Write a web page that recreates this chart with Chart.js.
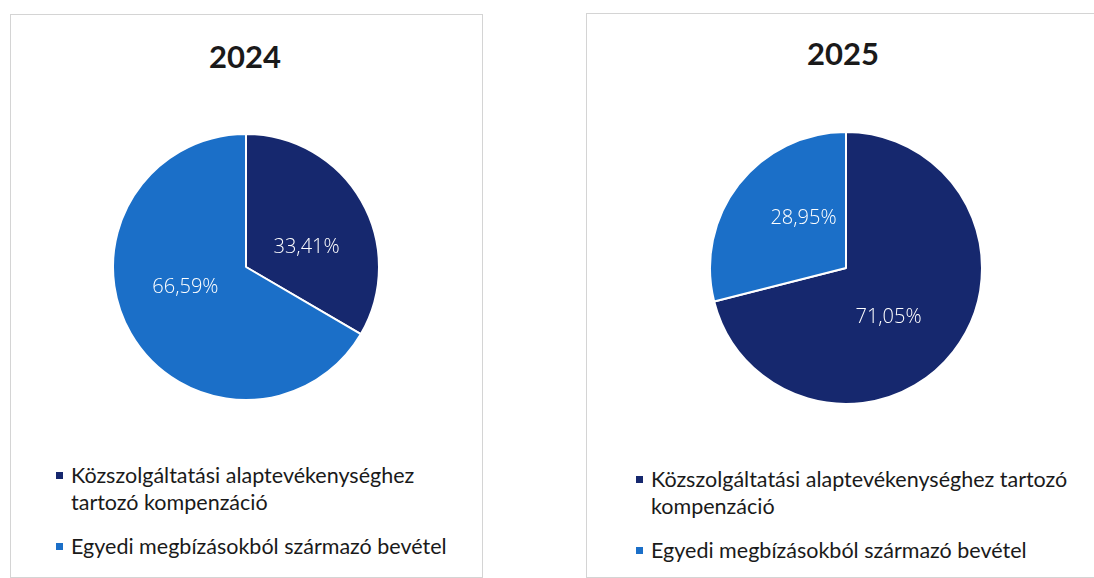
<!DOCTYPE html>
<html lang="hu">
<head>
<meta charset="utf-8">
<script src="https://cdn.jsdelivr.net/npm/chart.js@4/dist/chart.umd.min.js"></script>
<style>
  body { margin:0; background:#fff; width:1094px; height:578px; overflow:hidden; position:relative; font-family:Lato, "Open Sans", sans-serif; }
  .box { position:absolute; border:1px solid #d4d4d4; background:#fff; }
  .title { position:absolute; font-weight:bold; font-size:31px; color:#1a1a1a; transform:translate(-50%,-50%); white-space:nowrap; }
  .pie { position:absolute; }
  .legend { position:absolute; font-size:21.5px; color:#1a1a1a; line-height:27px; }
  .legend .item { position:relative; padding-left:15px; margin-bottom:17px; }
  .legend .mk { position:absolute; left:0; top:10px; width:7px; height:7px; }
</style>
</head>
<body>
<div class="box" style="left:10px;top:14px;width:471px;height:562px;"></div>
<div class="box" style="left:586px;top:13px;width:520px;height:563px;border-right:none;"></div>

<div class="title" style="left:245px;top:56px;">2024</div>
<div class="title" style="left:843px;top:53px;">2025</div>

<canvas id="chart1" class="pie" width="268" height="268" style="left:112px;top:133px;"></canvas>
<canvas id="chart2" class="pie" width="274" height="274" style="left:709px;top:131px;"></canvas>

<div id="legend1" class="legend" style="left:56px;top:462px;width:402px;"></div>
<div id="legend2" class="legend" style="left:636px;top:466px;width:455px;"></div>

<script>
// adatok
var categories = ["Közszolgáltatási alaptevékenységhez tartozó kompenzáció", "Egyedi megbízásokból származó bevétel"];
var values2024 = [33.41, 66.59];
var values2025 = [71.05, 28.95];
var colors = ['#16286e', '#1b6fc8'];

// szeletek feliratai (fehér, a szeleten belül, kicsit elforgatva mint az Excelben)
var sliceLabels = {
    id: 'sliceLabels',
    afterDatasetsDraw: function(chart) {
        var ctx = chart.ctx;
        var meta = chart.getDatasetMeta(0);
        var data = chart.data.datasets[0].data;
        ctx.save();
        ctx.fillStyle = '#ffffff';
        ctx.font = '300 20px "Open Sans", sans-serif';
        ctx.textAlign = 'center';
        ctx.textBaseline = 'middle';
        meta.data.forEach(function(arc, i) {
            var p = arc.getProps(['x', 'y', 'startAngle', 'endAngle', 'outerRadius'], true);
            var mid = (p.startAngle + p.endAngle) / 2 + 0.2;
            var r = p.outerRadius * 0.48;
            var txt = data[i].toFixed(2).replace('.', ',') + '%';
            ctx.fillText(txt, p.x + Math.cos(mid) * r, p.y + Math.sin(mid) * r);
        });
        ctx.restore();
    }
};

function makePie(id, values) {
    var ctx = document.getElementById(id).getContext('2d');
    return new Chart(ctx, {
        type: 'pie',
        data: {
            labels: categories,
            datasets: [{
                data: values,
                backgroundColor: colors,
                borderColor: '#ffffff',
                borderWidth: 2
            }]
        },
        options: {
            responsive: false,
            animation: false,
            layout: { padding: 0 },
            plugins: {
                legend: { display: false },
                title: { display: false },
                tooltip: { enabled: false }
            }
        },
        plugins: [sliceLabels]
    });
}

function makeLegend(id) {
    var el = document.getElementById(id);
    categories.forEach(function(c, i) {
        var item = document.createElement('div');
        item.className = 'item';
        item.innerHTML = '<span class="mk" style="background:' + colors[i] + '"></span>' + c;
        el.appendChild(item);
    });
}

makePie('chart1', values2024);
makePie('chart2', values2025);
makeLegend('legend1');
makeLegend('legend2');
</script>
</body>
</html>
